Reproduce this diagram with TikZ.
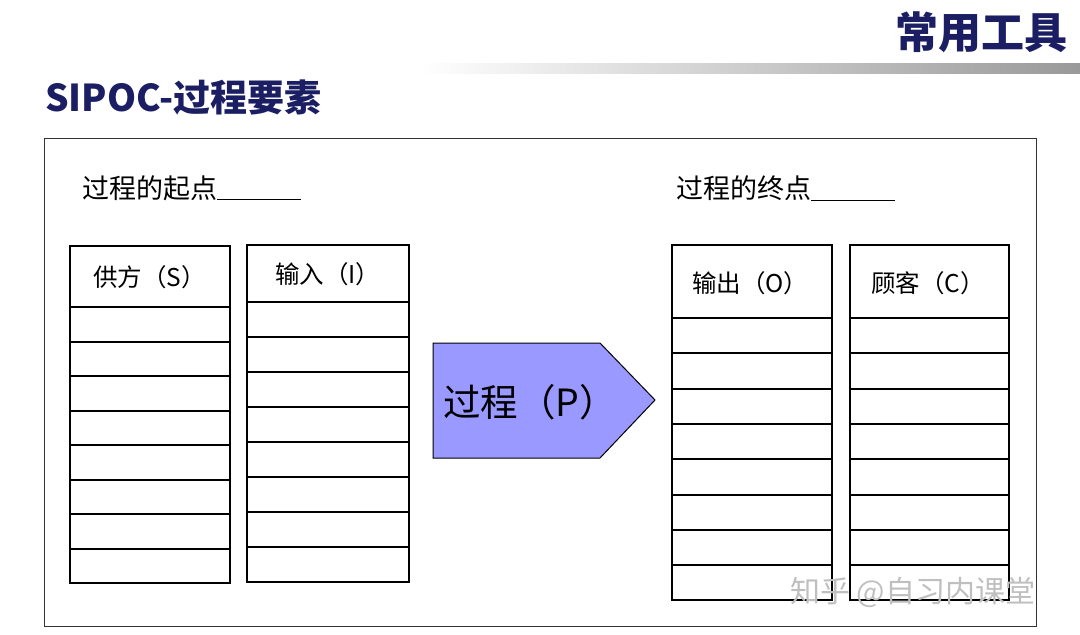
\documentclass[tikz,border=0pt]{standalone}
\usepackage{fontspec}
\newfontfamily\cjk{Noto Sans CJK SC}
\newfontfamily\cjkb{Noto Sans CJK SC Black}
\definecolor{navy}{RGB}{28,30,100}
\definecolor{procfill}{RGB}{153,153,255}
\tikzset{lbl/.style={anchor=west,inner sep=0,font=\cjk\fontsize{27}{27}\selectfont},
 hdr/.style={anchor=west,inner sep=0,font=\cjk\fontsize{24.5}{24.5}\selectfont},
 bx/.style={draw=black,line width=1.2pt}}
\begin{document}
\begin{tikzpicture}[x=1pt,y=-1pt]
\useasboundingbox (0,0) rectangle (1080,635);
% header
\node[anchor=east,inner sep=0,text=navy,font=\cjkb\fontsize{43}{43}\selectfont] (t1) at (1068,32) {常用工具};
\shade[left color=white,right color=black!40] (420,63) rectangle (1080,73);
\node[anchor=west,inner sep=0,text=navy,font=\cjkb\fontsize{37}{37}\selectfont,
  preaction={}] (t2) at (45,97) {SIPOC-过程要素};
% frame
\draw[line width=0.9pt,draw=black!80] (44,138) rectangle (1036,626);
\node[lbl] (a) at (82,188) {过程的起点\underline{\hspace{84pt}}};
\node[lbl] (b) at (676,188) {过程的终点\underline{\hspace{84pt}}};
% S
\draw[bx] (70,246) rectangle (230,583);
\foreach \y in {307,342,376,411,445,480,514,549} \draw[bx] (70,\y) -- (230,\y);
\node[hdr] (s) at (93,277) {供方（S）};
% I
\draw[bx] (247,245) rectangle (409,582);
\foreach \y in {302,337,372,407,442,477,512,547} \draw[bx] (247,\y) -- (409,\y);
\node[hdr] (i) at (275,274) {输入（I）};
% O
\draw[bx] (672,245) rectangle (832,600);
\foreach \y in {318,353,389,424,459,495,530,565} \draw[bx] (672,\y) -- (832,\y);
\node[hdr] (o) at (692,283) {输出（O）};
% C
\draw[bx] (850,245) rectangle (1009,600);
\foreach \y in {318,353,389,424,459,495,530,565} \draw[bx] (850,\y) -- (1009,\y);
\node[hdr] (c) at (871,283) {顾客（C）};
% process
\draw[fill=procfill,draw=black,line width=1pt] (433,343) -- (600,343) -- (655,400) -- (600,458) -- (433,458) -- cycle;
\node[anchor=west,inner sep=0,font=\cjk\fontsize{37.5}{37.5}\selectfont] (p) at (443,402) {过程（P）};
% watermark
\node[anchor=west,inner sep=0,text=black!25,font=\cjk\fontsize{30}{30}\selectfont] (w) at (790,592) {知乎 @自习内课堂};
\end{tikzpicture}
\end{document}
